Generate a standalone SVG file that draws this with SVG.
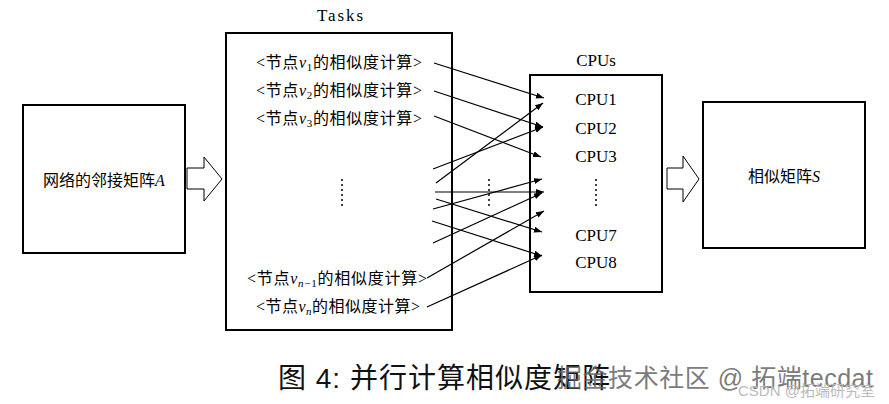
<svg xmlns="http://www.w3.org/2000/svg" width="889" height="404" viewBox="0 0 889 404">
<style>
.box{fill:#fff;stroke:#000;stroke-width:2}
.hollow{fill:#fff;stroke:#000;stroke-width:1}
.t{font-family:"Liberation Serif","Noto Sans CJK SC",serif;font-size:16px;fill:#000}
.cpu{font-family:"Liberation Serif",serif;font-size:17px;fill:#000;text-anchor:middle}
.lab{font-family:"Liberation Serif","Noto Sans CJK SC",serif;font-size:16px;fill:#000;text-anchor:middle}
.it{font-style:italic}
.sub{font-size:11px}
.dots{stroke:#000;stroke-width:2;stroke-linecap:round;stroke-dasharray:0 5;fill:none}
.conn line{stroke:#000;stroke-width:1.2;marker-end:url(#ah)}
.cap{font-family:"Liberation Sans","Noto Sans CJK SC",sans-serif;font-size:28px;fill:#111}
.wm{font-family:"Liberation Sans","Noto Sans CJK SC",sans-serif;font-size:25px;fill:#666;opacity:0.85}
.wm2{font-family:"Liberation Sans","Noto Sans CJK SC",sans-serif;font-size:15px;fill:#bbb}
</style>
<defs>
<marker id="ah" markerUnits="userSpaceOnUse" markerWidth="9" markerHeight="7" refX="8" refY="3" orient="auto">
<path d="M0,0 L8,3 L0,6 z" fill="#000"/>
</marker>
</defs>
<rect width="889" height="404" fill="#fff"/>

<g id="node-adjacency">
<rect class="box" x="23" y="105" width="162" height="148"/>
<text class="lab" x="104" y="186">网络的邻接矩阵<tspan class="it">A</tspan></text>
</g>

<g id="arrow-left">
<polygon class="hollow" points="187,168 204,168 204,157 222,179 204,201 204,189 187,189"/>
</g>

<g id="node-tasks">
<text class="cpu" x="340" y="21" textLength="46">Tasks</text>
<rect class="box" x="226" y="33" width="226" height="297"/>
<text class="t" x="256" y="68" textLength="166">&lt;节点<tspan class="it">v</tspan><tspan class="sub" dy="3">1</tspan><tspan dy="-3">的相似度计算&gt;</tspan></text>
<text class="t" x="256" y="96" textLength="166">&lt;节点<tspan class="it">v</tspan><tspan class="sub" dy="3">2</tspan><tspan dy="-3">的相似度计算&gt;</tspan></text>
<text class="t" x="256" y="124" textLength="166">&lt;节点<tspan class="it">v</tspan><tspan class="sub" dy="3">3</tspan><tspan dy="-3">的相似度计算&gt;</tspan></text>
<line class="dots" x1="342" y1="180" x2="342" y2="210"/>
<text class="t" x="247" y="284" textLength="180">&lt;节点<tspan class="it">v</tspan><tspan class="sub" dy="3"><tspan class="it">n</tspan>−1</tspan><tspan dy="-3">的相似度计算&gt;</tspan></text>
<text class="t" x="256" y="312" textLength="164">&lt;节点<tspan class="it">v</tspan><tspan class="sub it" dy="3">n</tspan><tspan dy="-3">的相似度计算&gt;</tspan></text>
</g>

<g id="node-cpus">
<text class="cpu" x="596" y="66">CPUs</text>
<rect class="box" x="530" y="75" width="132" height="217"/>
<text class="cpu" x="596" y="105">CPU1</text>
<text class="cpu" x="596" y="134">CPU2</text>
<text class="cpu" x="596" y="162">CPU3</text>
<line class="dots" x1="596" y1="180" x2="596" y2="210"/>
<text class="cpu" x="596" y="241">CPU7</text>
<text class="cpu" x="596" y="268">CPU8</text>
</g>

<g id="arrow-right">
<polygon class="hollow" points="667,168 683,168 683,156 699,179 683,202 683,189 667,189"/>
</g>

<g id="node-similarity">
<rect class="box" x="703" y="102" width="162" height="146"/>
<text class="lab" x="784" y="182">相似矩阵<tspan class="it">S</tspan></text>
</g>

<g id="connectors" class="conn">
<line x1="434" y1="63" x2="544" y2="98"/>
<line x1="434" y1="91" x2="543" y2="127"/>
<line x1="434" y1="116" x2="541" y2="157"/>
<line x1="433" y1="169" x2="543" y2="127"/>
<line x1="436" y1="183" x2="543" y2="103"/>
<line x1="435" y1="192" x2="544" y2="192"/>
<line x1="433" y1="209" x2="542" y2="179"/>
<line x1="436" y1="199" x2="542" y2="232"/>
<line x1="432" y1="221" x2="542" y2="256"/>
<line x1="433" y1="243" x2="542" y2="193"/>
<line x1="427" y1="278" x2="544" y2="211"/>
<line x1="427" y1="307" x2="542" y2="255"/>
<line class="dots" x1="489" y1="180" x2="489" y2="210" style="marker-end:none;stroke-width:2"/>
</g>

<g id="caption">
<text class="cap" x="278" y="388" letter-spacing="1">图 4: 并行计算相似度矩阵</text>
<text class="wm" x="557" y="387" textLength="316">掘金技术社区 @ 拓端tecdat</text>
<text class="wm2" x="738" y="396">CSDN @拓端研究室</text>
</g>
</svg>
